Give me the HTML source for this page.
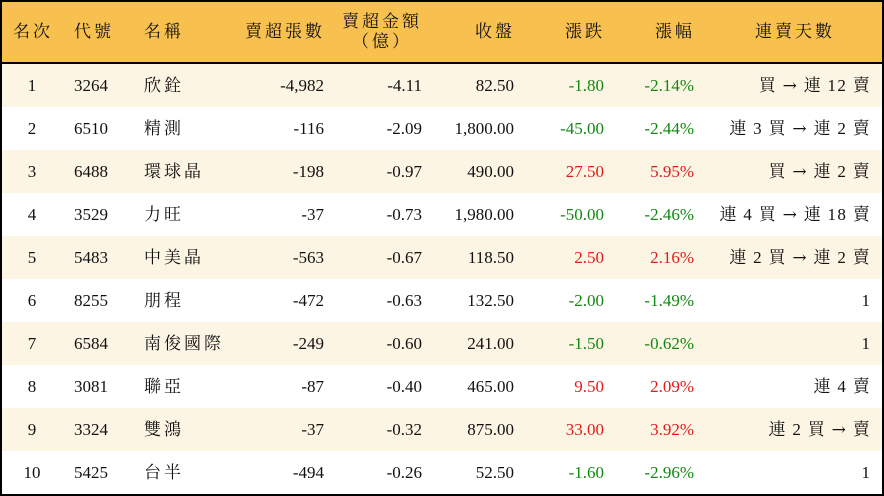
<!DOCTYPE html><html><head><meta charset="utf-8"><style>
body{margin:0;width:884px;height:496px;overflow:hidden;background:#fff;font-family:"Liberation Serif","Noto Serif CJK SC",serif;font-size:17px;color:#111}
.w{position:absolute;left:0;top:0;width:880px;height:492px;border:2px solid #000}
.h{position:absolute;left:0;top:0;width:880px;height:60px;background:#F8C14F;border-bottom:2px solid #000}
.r{position:absolute;left:0;width:880px;height:43px}
.c{position:absolute;line-height:43px;white-space:nowrap}
.k{letter-spacing:3px}
.l{letter-spacing:1.3px}
.hc{position:absolute;top:0;line-height:60px;white-space:nowrap;letter-spacing:3px}
.g{color:#118811}.d{color:#e11b1b}
.a{font-family:"DejaVu Serif",serif;font-size:17px}
</style></head><body><div class="w">
<div class="h">
<span class="hc" style="left:11px">名次</span>
<span class="hc" style="left:72px">代號</span>
<span class="hc" style="left:142px">名稱</span>
<span class="hc" style="right:557px">賣超張數</span>
<span class="hc" style="right:460px;line-height:20px;top:10px;text-align:center">賣超金額<br>（億）</span>
<span class="hc" style="right:367px">收盤</span>
<span class="hc" style="right:277px">漲跌</span>
<span class="hc" style="right:187px">漲幅</span>
<span class="hc" style="right:47px">連賣天數</span>
</div>
<div id="rows"></div>
</div>
<script>
var d=[
["1","3264","欣銓","-4,982","-4.11","82.50","-1.80","-2.14%","買 → 連 12 賣"],
["2","6510","精測","-116","-2.09","1,800.00","-45.00","-2.44%","連 3 買 → 連 2 賣"],
["3","6488","環球晶","-198","-0.97","490.00","27.50","5.95%","買 → 連 2 賣"],
["4","3529","力旺","-37","-0.73","1,980.00","-50.00","-2.46%","連 4 買 → 連 18 賣"],
["5","5483","中美晶","-563","-0.67","118.50","2.50","2.16%","連 2 買 → 連 2 賣"],
["6","8255","朋程","-472","-0.63","132.50","-2.00","-1.49%","1"],
["7","6584","南俊國際","-249","-0.60","241.00","-1.50","-0.62%","1"],
["8","3081","聯亞","-87","-0.40","465.00","9.50","2.09%","連 4 賣"],
["9","3324","雙鴻","-37","-0.32","875.00","33.00","3.92%","連 2 買 → 賣"],
["10","5425","台半","-494","-0.26","52.50","-1.60","-2.96%","1"]];
var h="";d.forEach(function(r,i){var cl=r[6][0]=="-"?"g":"d";
var last=r[8].replace("→",'<span class="a">→</span>');
h+='<div class="r" style="top:'+(62+i*43)+'px;background:'+(i%2?'#fff':'#FDF5E3')+'">'+
'<span class="c" style="left:0;width:60px;text-align:center">'+r[0]+'</span>'+
'<span class="c" style="left:72px">'+r[1]+'</span>'+
'<span class="c k" style="left:142px">'+r[2]+'</span>'+
'<span class="c" style="right:558px">'+r[3]+'</span>'+
'<span class="c" style="right:460px">'+r[4]+'</span>'+
'<span class="c" style="right:368px">'+r[5]+'</span>'+
'<span class="c '+cl+'" style="right:278px">'+r[6]+'</span>'+
'<span class="c '+cl+'" style="right:188px">'+r[7]+'</span>'+
'<span class="c'+(r[8]=="1"?'':' l')+'" style="right:'+(r[8]=="1"?12:11)+'px">'+last+'</span></div>';});
document.getElementById("rows").innerHTML=h;
</script></body></html>
